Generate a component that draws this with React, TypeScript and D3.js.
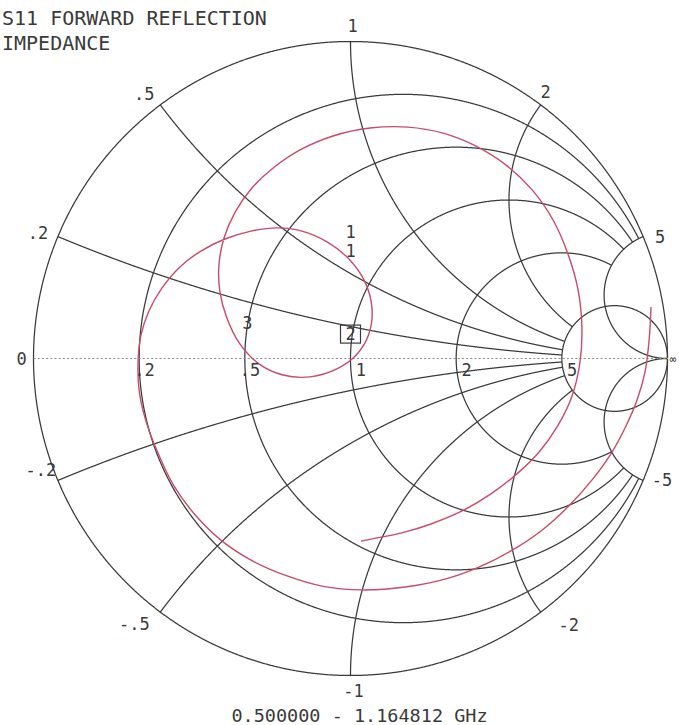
import React from 'react';
import * as d3 from 'd3';

const W = 679;
const H = 725;
const CX = 350.5;
const CY = 358.5;
const RAD = 317;

const titleLines = ['S11 FORWARD REFLECTION', 'IMPEDANCE'];
const sweepLabel = '0.500000 - 1.164812 GHz';

// Smith chart graticule values
const clippedResistance = [0.2, 0.5, 1, 2]; // drawn where |x| <= gridLimit
const fullResistance = [0, 5];
const clippedReactance = [0.2, 0.5, 1, 2, -0.2, -0.5, -1, -2]; // drawn where r <= gridLimit
const fullReactance = [5, -5];
const gridLimit = 5;

const resistanceTickValues = [0.2, 0.5, 1, 2, 5];
const resistanceTickLabels = ['.2', '.5', ' 1', ' 2', ' 5'];
const reactanceTickValues = [0.2, 0.5, 1, 2, 5, -0.2, -0.5, -1, -2, -5];
const reactanceTickLabels = ['.2', '.5', '1', '2', '5', '-.2', '-.5', '-1', '-2', '-5'];

// S11 trace, reflection coefficient (real, imaginary)
const traceRe = [0.948, 0.942, 0.929, 0.904, 0.869, 0.825, 0.762, 0.686, 0.601, 0.506, 0.405, 0.298, 0.172, 0.036, -0.090, -0.200, -0.308, -0.405, -0.487, -0.557, -0.610, -0.648, -0.667, -0.670, -0.661, -0.636, -0.595, -0.538, -0.472, -0.396, -0.314, -0.232, -0.153, -0.074, -0.005, 0.046, 0.068, 0.058, 0.021, -0.043, -0.128, -0.213, -0.289, -0.349, -0.390, -0.412, -0.415, -0.399, -0.364, -0.311, -0.244, -0.159, -0.055, 0.062, 0.181, 0.292, 0.396, 0.491, 0.573, 0.639, 0.686, 0.718, 0.730, 0.724, 0.699, 0.655, 0.595, 0.525, 0.443, 0.352, 0.254, 0.162, 0.084, 0.033];
const traceIm = [0.162, 0.058, -0.043, -0.131, -0.213, -0.295, -0.383, -0.468, -0.544, -0.607, -0.658, -0.696, -0.721, -0.730, -0.718, -0.686, -0.639, -0.576, -0.497, -0.402, -0.292, -0.188, -0.099, -0.005, 0.074, 0.150, 0.222, 0.289, 0.339, 0.377, 0.402, 0.412, 0.402, 0.368, 0.314, 0.241, 0.156, 0.077, 0.014, -0.033, -0.058, -0.052, -0.017, 0.046, 0.128, 0.210, 0.295, 0.380, 0.462, 0.538, 0.601, 0.658, 0.702, 0.727, 0.730, 0.711, 0.670, 0.610, 0.532, 0.437, 0.330, 0.216, 0.099, -0.011, -0.118, -0.210, -0.295, -0.364, -0.427, -0.481, -0.522, -0.550, -0.566, -0.576];

// marker annotations (label, Γ real, Γ imag)
const markerLabels = ['1', '1', '3', '2'];
const markerRe = [0.0, 0.0, -0.325, 0.0];
const markerIm = [0.398, 0.338, 0.112, 0.077];
const activeMarker = 3;

// label layout offsets (px) for outer reactance labels
const reactanceLabelOffsets: [number, number][] = [
  [-20, -4], [-16, -11], [2, -16], [5, -13], [17, 0],
  [-17, -10], [-26, 12], [3, 15], [28, 13], [19, 0],
];

const xs = d3.scaleLinear().domain([-1, 1]).range([CX - RAD, CX + RAD]);
const ys = d3.scaleLinear().domain([-1, 1]).range([CY + RAD, CY - RAD]);

function gamma(r: number, x: number): [number, number] {
  const den = (r + 1) * (r + 1) + x * x;
  return [(r * r - 1 + x * x) / den, (2 * x) / den];
}

const line = d3
  .line<[number, number]>()
  .x((d) => xs(d[0]))
  .y((d) => ys(d[1]));

function resistancePath(r: number, full: boolean): string {
  const pts: [number, number][] = [];
  const n = 2400;
  for (let i = 0; i <= n; i++) {
    const t = -1 + (2 * i) / n;
    const x = full ? Math.tan(t * (Math.PI / 2) * 0.9995) : gridLimit * t;
    pts.push(gamma(r, x));
  }
  return line(pts) || '';
}

function reactancePath(x: number, full: boolean): string {
  const pts: [number, number][] = [];
  const n = 2000;
  for (let i = 0; i <= n; i++) {
    const s = i / n;
    const r = full ? (s * 0.9995) / (1 - s * 0.9995) : gridLimit * s * s;
    pts.push(gamma(r, x));
  }
  return line(pts) || '';
}

const tracePoints: [number, number][] = traceRe.map((re, i) => [re, traceIm[i]]);
const traceLine = d3
  .line<[number, number]>()
  .x((d) => xs(d[0]))
  .y((d) => ys(d[1]))
  .curve(d3.curveCatmullRom.alpha(0.5));

const FONT = "'DejaVu Sans Mono', 'Liberation Mono', monospace";
const INK = '#3a3a3a';
const TRACE = '#c94a6c';

export default function App() {
  const tickSize = 17;
  return (
    <div style={{ position: 'absolute', left: 0, top: 0 }}>
      <svg width={W} height={H} viewBox={`0 0 ${W} ${H}`} style={{ display: 'block', background: '#ffffff' }}>
        <g fill="none" stroke={INK} strokeWidth={1.25}>
          {fullResistance.map((r) => (
            <path key={`fr${r}`} d={resistancePath(r, true)} />
          ))}
          {clippedResistance.map((r) => (
            <path key={`cr${r}`} d={resistancePath(r, false)} />
          ))}
          {clippedReactance.map((x) => (
            <path key={`cx${x}`} d={reactancePath(x, false)} />
          ))}
          {fullReactance.map((x) => (
            <path key={`fx${x}`} d={reactancePath(x, true)} />
          ))}
        </g>
        <line
          x1={xs(-1)}
          x2={xs(1)}
          y1={ys(0)}
          y2={ys(0)}
          stroke="#8a8a8a"
          strokeWidth={1}
          strokeDasharray="2 2.2"
        />
        <path d={traceLine(tracePoints) || ''} fill="none" stroke={TRACE} strokeWidth={1.4} />

        <g fontFamily={FONT} fill={INK} fontSize={tickSize}>
          {resistanceTickValues.map((r, i) => {
            const g = gamma(r, 0);
            return (
              <text key={`rt${r}`} x={xs(g[0]) - 5} y={ys(0) + 17} style={{ whiteSpace: 'pre' }}>
                {resistanceTickLabels[i]}
              </text>
            );
          })}
          {reactanceTickValues.map((x, i) => {
            const g = gamma(0, x);
            const [dx, dy] = reactanceLabelOffsets[i];
            return (
              <text key={`xt${x}`} x={xs(g[0]) + dx} y={ys(g[1]) + dy + 6} textAnchor="middle">
                {reactanceTickLabels[i]}
              </text>
            );
          })}
          <text x={xs(-1) - 12} y={ys(0) + 6} textAnchor="middle">0</text>
          <text x={xs(1) + 2} y={ys(0) + 4} fontSize={11}>∞</text>
          {markerLabels.map((m, i) => (
            <text key={`m${i}`} x={xs(markerRe[i])} y={ys(markerIm[i]) + 6} textAnchor="middle">
              {m}
            </text>
          ))}
        </g>
        <rect
          x={xs(markerRe[activeMarker]) - 10}
          y={ys(markerIm[activeMarker]) - 9}
          width={20}
          height={18}
          fill="none"
          stroke={INK}
          strokeWidth={1.2}
        />

        <g fontFamily={FONT} fill={INK}>
          {titleLines.map((t, i) => (
            <text key={t} x={2} y={25 + i * 25} fontSize={20}>
              {t}
            </text>
          ))}
          <text x={359.5} y={722} fontSize={18.5} textAnchor="middle" style={{ whiteSpace: 'pre' }}>
            {sweepLabel}
          </text>
        </g>
      </svg>
    </div>
  );
}
